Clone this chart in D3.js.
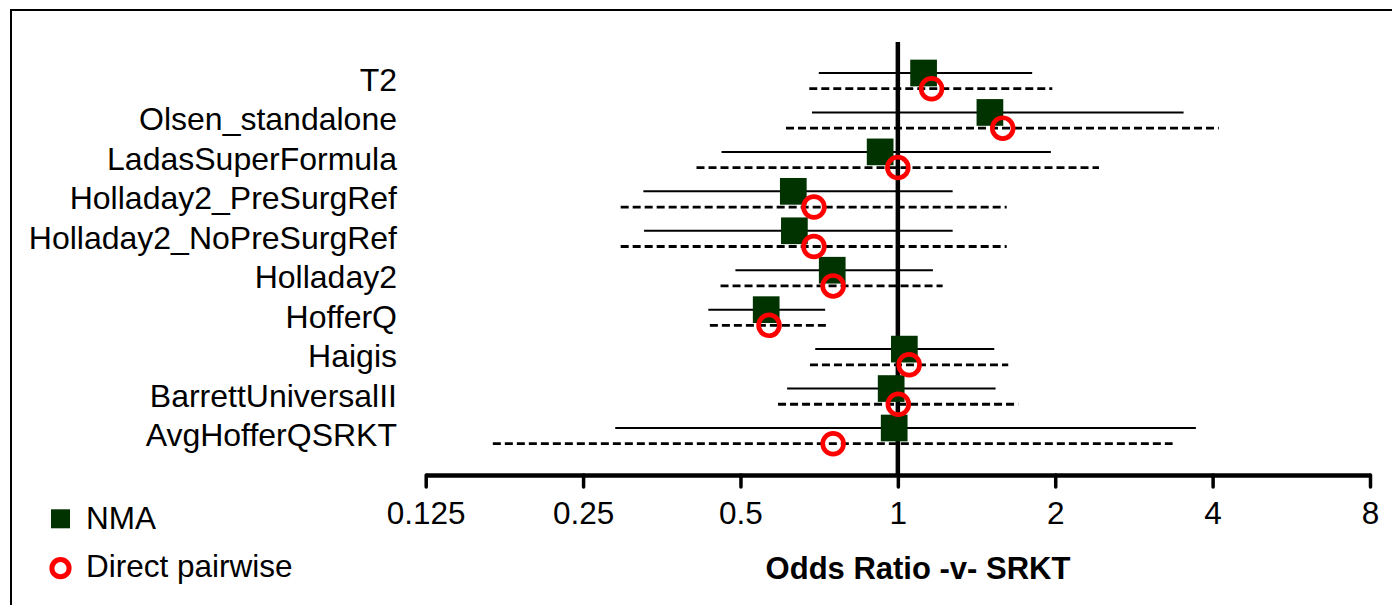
<!DOCTYPE html>
<html>
<head>
<meta charset="utf-8">
<script src="https://cdn.jsdelivr.net/npm/d3@7"></script>
<style>
  html, body { margin: 0; padding: 0; background: #fff; }
  svg { display: block; font-family: "Liberation Sans", Arial, sans-serif; }
</style>
</head>
<body>
<svg id="chart" width="1392" height="605"></svg>
<script>
// Formulae compared against SRK/T
const categories = [
  "T2", "Olsen_standalone", "LadasSuperFormula", "Holladay2_PreSurgRef",
  "Holladay2_NoPreSurgRef", "Holladay2", "HofferQ", "Haigis",
  "BarrettUniversalII", "AvgHofferQSRKT"
];

// Network meta-analysis estimates with 95% intervals
const nmaOR   = [1.12, 1.50, 0.925, 0.631, 0.634, 0.749, 0.560, 1.029, 0.971, 0.984];
const nmaLow  = [0.706, 0.685, 0.460, 0.326, 0.327, 0.489, 0.434, 0.695, 0.614, 0.288];
const nmaHigh = [1.807, 3.52, 1.962, 1.273, 1.273, 1.167, 0.726, 1.529, 1.538, 3.716];

// Direct pairwise estimates with 95% intervals
const directOR   = [1.160, 1.587, 1.00, 0.691, 0.691, 0.752, 0.567, 1.051, 1.002, 0.752];
const directLow  = [0.677, 0.611, 0.412, 0.295, 0.295, 0.458, 0.437, 0.679, 0.590, 0.168];
const directHigh = [1.974, 4.11, 2.425, 1.615, 1.615, 1.218, 0.734, 1.626, 1.699, 3.354];

const tickValues = [0.125, 0.25, 0.5, 1, 2, 4, 8];
const tickLabels = ["0.125", "0.25", "0.5", "1", "2", "4", "8"];

const axisTitle = "Odds Ratio -v- SRKT";
const legendLabels = ["NMA", "Direct pairwise"];

const svg = d3.select("#chart");
const FONT = 31.5;
const LABEL_FONT = 32;
const GREEN = "#003300";
const RED = "#ff0000";

// frame
svg.append("rect")
  .attr("x", 11).attr("y", 10)
  .attr("width", 1420).attr("height", 640)
  .attr("fill", "none").attr("stroke", "#000").attr("stroke-width", 2);

const x = d3.scaleLog().base(2).domain([0.125, 8]).range([425.7, 1370]);
const y = d3.scalePoint().domain(categories).range([73, 428]);
const dashOffset = 15.7;
const axisY = 475;

const rows = categories.map((c, i) => ({
  c,
  nma: nmaOR[i], nLo: nmaLow[i], nHi: nmaHigh[i],
  dir: directOR[i], dLo: directLow[i], dHi: directHigh[i]
}));

// line of no effect
svg.append("line")
  .attr("x1", x(1)).attr("x2", x(1))
  .attr("y1", 42).attr("y2", axisY)
  .attr("stroke", "#000").attr("stroke-width", 4.5);

// NMA intervals (solid)
svg.append("g").selectAll("line").data(rows).join("line")
  .attr("x1", d => x(d.nLo)).attr("x2", d => x(d.nHi))
  .attr("y1", d => y(d.c)).attr("y2", d => y(d.c))
  .attr("stroke", "#000").attr("stroke-width", 2);

// direct intervals (dashed)
svg.append("g").selectAll("line").data(rows).join("line")
  .attr("x1", d => x(d.dLo)).attr("x2", d => x(d.dHi))
  .attr("y1", d => y(d.c) + dashOffset).attr("y2", d => y(d.c) + dashOffset)
  .attr("stroke", "#000").attr("stroke-width", 2.8)
  .attr("stroke-dasharray", "8,4");

// NMA point estimates
const sq = 26.7;
svg.append("g").selectAll("rect").data(rows).join("rect")
  .attr("x", d => x(d.nma) - sq / 2)
  .attr("y", d => y(d.c) - sq / 2)
  .attr("width", sq).attr("height", sq)
  .attr("fill", GREEN);

// direct point estimates
svg.append("g").selectAll("circle").data(rows).join("circle")
  .attr("cx", d => x(d.dir))
  .attr("cy", d => y(d.c) + dashOffset)
  .attr("r", 10.4)
  .attr("fill", "none").attr("stroke", RED).attr("stroke-width", 4.7);

// category labels
svg.append("g").selectAll("text").data(categories).join("text")
  .attr("x", 397).attr("y", d => y(d) + 18)
  .attr("text-anchor", "end")
  .attr("font-size", LABEL_FONT)
  .attr("fill", "#000")
  .text(d => d);

// x axis
const axis = d3.axisBottom(x)
  .tickValues(tickValues)
  .tickFormat((d, i) => tickLabels[i])
  .tickSize(12)
  .tickSizeOuter(0);

const gx = svg.append("g").attr("transform", `translate(0,${axisY})`).call(axis);
gx.select(".domain").attr("stroke", "#000").attr("stroke-width", 4.5);
gx.selectAll(".tick line").attr("stroke", "#000").attr("stroke-width", 3.5)
  .attr("stroke-linecap", "round");
gx.selectAll(".tick text")
  .attr("y", 49).attr("dy", 0)
  .attr("font-size", FONT)
  .attr("font-family", "Liberation Sans, Arial, sans-serif")
  .attr("fill", "#000");

// axis title
svg.append("text")
  .attr("x", 918).attr("y", 579)
  .attr("text-anchor", "middle")
  .attr("font-size", 31)
  .attr("font-weight", "bold")
  .attr("fill", "#000")
  .text(axisTitle);

// legend
const lg = svg.append("g");
lg.append("rect")
  .attr("x", 51).attr("y", 509.3).attr("width", 19).attr("height", 19)
  .attr("fill", GREEN);
lg.append("circle")
  .attr("cx", 60.5).attr("cy", 568.2).attr("r", 8.6)
  .attr("fill", "none").attr("stroke", RED).attr("stroke-width", 5);
lg.selectAll("text").data(legendLabels).join("text")
  .attr("x", 86)
  .attr("y", (d, i) => i === 0 ? 529 : 577)
  .attr("font-size", FONT)
  .attr("fill", "#000")
  .text(d => d);
</script>
</body>
</html>
